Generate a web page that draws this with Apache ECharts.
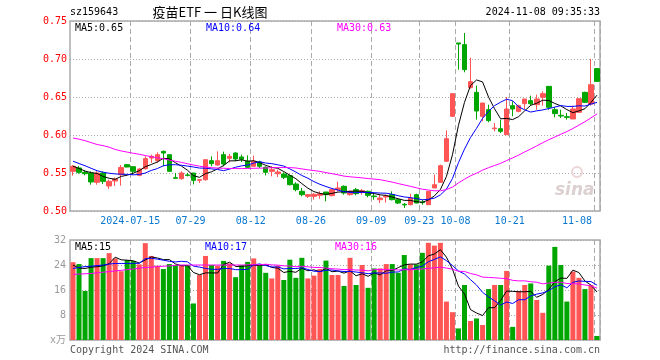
<!DOCTYPE html>
<html><head><meta charset="utf-8">
<script src="https://cdn.jsdelivr.net/npm/echarts@6/dist/echarts.min.js"></script>
<style>html,body{margin:0;padding:0;background:#fff}#c{width:660px;height:360px}</style>
</head><body><div id="c"></div>
<script>
const dates = ['2024-07-01','2024-07-02','2024-07-03','2024-07-04','2024-07-05','2024-07-08','2024-07-09','2024-07-10','2024-07-11','2024-07-12','2024-07-15','2024-07-16','2024-07-17','2024-07-18','2024-07-19','2024-07-22','2024-07-23','2024-07-24','2024-07-25','2024-07-26','2024-07-29','2024-07-30','2024-07-31','2024-08-01','2024-08-02','2024-08-05','2024-08-06','2024-08-07','2024-08-08','2024-08-09','2024-08-12','2024-08-13','2024-08-14','2024-08-15','2024-08-16','2024-08-19','2024-08-20','2024-08-21','2024-08-22','2024-08-23','2024-08-26','2024-08-27','2024-08-28','2024-08-29','2024-08-30','2024-09-02','2024-09-03','2024-09-04','2024-09-05','2024-09-06','2024-09-09','2024-09-10','2024-09-11','2024-09-12','2024-09-13','2024-09-18','2024-09-19','2024-09-20','2024-09-23','2024-09-24','2024-09-25','2024-09-26','2024-09-27','2024-09-30','2024-10-08','2024-10-09','2024-10-10','2024-10-11','2024-10-14','2024-10-15','2024-10-16','2024-10-17','2024-10-18','2024-10-21','2024-10-22','2024-10-23','2024-10-24','2024-10-25','2024-10-28','2024-10-29','2024-10-30','2024-10-31','2024-11-01','2024-11-04','2024-11-05','2024-11-06','2024-11-07','2024-11-08'];
const tickDates = ['2024-07-15','2024-07-29','2024-08-12','2024-08-26','2024-09-09','2024-09-23','2024-10-08','2024-10-21','2024-11-08'];

const opens = [0.5522,0.5566,0.5509,0.5500,0.5377,0.5500,0.5329,0.5395,0.5478,0.5610,0.5583,0.5469,0.5557,0.5697,0.5662,0.5785,0.5741,0.5438,0.5425,0.5475,0.5500,0.5403,0.5412,0.5662,0.5605,0.5741,0.5693,0.5763,0.5711,0.5654,0.5588,0.5645,0.5575,0.5522,0.5491,0.5487,0.5465,0.5355,0.5259,0.5193,0.5193,0.5206,0.5250,0.5202,0.5281,0.5325,0.5215,0.5281,0.5246,0.5259,0.5197,0.5149,0.5184,0.5215,0.5149,0.5088,0.5083,0.5215,0.5118,0.5083,0.5303,0.5377,0.5654,0.6246,0.7211,0.7189,0.6623,0.6561,0.6246,0.6333,0.6083,0.6083,0.6004,0.6386,0.6311,0.6412,0.6452,0.6399,0.6496,0.6640,0.6333,0.6259,0.6241,0.6211,0.6298,0.6561,0.6408,0.6873];
const closes = [0.5588,0.5509,0.5491,0.5382,0.5500,0.5390,0.5390,0.5421,0.5574,0.5579,0.5522,0.5553,0.5689,0.5719,0.5741,0.5763,0.5522,0.5430,0.5500,0.5468,0.5403,0.5412,0.5675,0.5623,0.5662,0.5618,0.5719,0.5684,0.5680,0.5575,0.5654,0.5588,0.5509,0.5544,0.5513,0.5443,0.5346,0.5281,0.5215,0.5215,0.5219,0.5228,0.5215,0.5281,0.5303,0.5237,0.5259,0.5228,0.5268,0.5206,0.5189,0.5171,0.5197,0.5149,0.5105,0.5079,0.5171,0.5105,0.5110,0.5259,0.5346,0.5596,0.5952,0.6544,0.7197,0.6860,0.6702,0.6316,0.6421,0.6189,0.6092,0.6048,0.6342,0.6342,0.6386,0.6474,0.6412,0.6474,0.6544,0.6364,0.6281,0.6250,0.6232,0.6342,0.6478,0.6430,0.6662,0.6706];
const lows = [0.5465,0.5490,0.5470,0.5346,0.5346,0.5355,0.5290,0.5330,0.5333,0.5575,0.5478,0.5456,0.5544,0.5632,0.5632,0.5588,0.5520,0.5425,0.5412,0.5456,0.5350,0.5368,0.5399,0.5588,0.5596,0.5588,0.5640,0.5654,0.5645,0.5566,0.5588,0.5566,0.5469,0.5456,0.5447,0.5421,0.5337,0.5259,0.5193,0.5171,0.5149,0.5162,0.5127,0.5193,0.5259,0.5215,0.5202,0.5206,0.5215,0.5180,0.5149,0.5105,0.5110,0.5140,0.5092,0.5040,0.5075,0.5101,0.5083,0.5079,0.5303,0.5368,0.5645,0.6237,0.6860,0.6825,0.6610,0.6202,0.6180,0.6167,0.6048,0.6026,0.6004,0.6246,0.6298,0.6342,0.6386,0.6333,0.6386,0.6333,0.6232,0.6224,0.6202,0.6211,0.6290,0.6421,0.6386,0.6700];
const highs = [0.5605,0.5590,0.5535,0.5522,0.5522,0.5522,0.5412,0.5439,0.5605,0.5615,0.5590,0.5566,0.5719,0.5741,0.5772,0.5794,0.5745,0.5500,0.5522,0.5500,0.5500,0.5420,0.5675,0.5719,0.5785,0.5781,0.5750,0.5772,0.5741,0.5732,0.5728,0.5662,0.5588,0.5588,0.5544,0.5509,0.5478,0.5377,0.5303,0.5224,0.5237,0.5259,0.5250,0.5290,0.5386,0.5337,0.5268,0.5303,0.5290,0.5268,0.5228,0.5215,0.5215,0.5259,0.5158,0.5105,0.5228,0.5228,0.5149,0.5259,0.5478,0.5610,0.6061,0.6544,0.7211,0.7342,0.7018,0.6649,0.6421,0.6399,0.6158,0.6202,0.6500,0.6443,0.6399,0.6474,0.6518,0.6531,0.6575,0.6640,0.6368,0.6333,0.6290,0.6386,0.6478,0.6570,0.7000,0.6882];

const ma5 = [0.5590,0.5560,0.5525,0.5505,0.5494,0.5454,0.5431,0.5417,0.5455,0.5471,0.5497,0.5530,0.5583,0.5612,0.5645,0.5693,0.5687,0.5635,0.5591,0.5537,0.5465,0.5443,0.5492,0.5516,0.5555,0.5598,0.5659,0.5661,0.5673,0.5655,0.5662,0.5636,0.5601,0.5574,0.5562,0.5519,0.5471,0.5425,0.5360,0.5300,0.5255,0.5232,0.5218,0.5232,0.5249,0.5253,0.5259,0.5262,0.5259,0.5240,0.5230,0.5212,0.5206,0.5182,0.5162,0.5140,0.5140,0.5122,0.5114,0.5145,0.5198,0.5283,0.5453,0.5739,0.6127,0.6430,0.6651,0.6724,0.6699,0.6498,0.6344,0.6213,0.6218,0.6203,0.6242,0.6318,0.6391,0.6418,0.6458,0.6454,0.6415,0.6383,0.6334,0.6294,0.6317,0.6346,0.6429,0.6524];
const ma10 = [0.5655,0.5625,0.5595,0.5562,0.5530,0.5510,0.5497,0.5488,0.5484,0.5482,0.5476,0.5480,0.5500,0.5534,0.5558,0.5595,0.5608,0.5609,0.5602,0.5591,0.5579,0.5565,0.5563,0.5554,0.5546,0.5531,0.5551,0.5576,0.5594,0.5605,0.5630,0.5648,0.5631,0.5623,0.5608,0.5591,0.5554,0.5513,0.5467,0.5431,0.5387,0.5351,0.5322,0.5296,0.5275,0.5254,0.5245,0.5240,0.5245,0.5244,0.5241,0.5236,0.5234,0.5221,0.5201,0.5185,0.5176,0.5164,0.5148,0.5154,0.5169,0.5212,0.5287,0.5427,0.5636,0.5814,0.5967,0.6088,0.6219,0.6312,0.6387,0.6432,0.6471,0.6451,0.6370,0.6331,0.6302,0.6318,0.6330,0.6348,0.6367,0.6387,0.6376,0.6376,0.6385,0.6381,0.6406,0.6429];
const ma30 = [0.5960,0.5945,0.5925,0.5900,0.5875,0.5860,0.5840,0.5810,0.5790,0.5775,0.5760,0.5746,0.5730,0.5715,0.5700,0.5688,0.5670,0.5655,0.5640,0.5622,0.5605,0.5590,0.5578,0.5570,0.5565,0.5562,0.5560,0.5558,0.5558,0.5559,0.5562,0.5564,0.5565,0.5570,0.5571,0.5572,0.5571,0.5566,0.5554,0.5542,0.5532,0.5521,0.5505,0.5491,0.5476,0.5459,0.5450,0.5443,0.5436,0.5427,0.5420,0.5412,0.5396,0.5380,0.5361,0.5343,0.5325,0.5306,0.5287,0.5276,0.5266,0.5266,0.5281,0.5314,0.5370,0.5418,0.5463,0.5497,0.5538,0.5570,0.5599,0.5627,0.5664,0.5699,0.5736,0.5777,0.5815,0.5857,0.5899,0.5938,0.5974,0.6010,0.6045,0.6085,0.6130,0.6175,0.6225,0.6278];

const volumes = [24.9,24.3,15.7,26.2,26.2,26.2,27.8,26.1,22.0,25.6,25.3,24.2,31.0,26.9,23.8,22.7,24.3,24.0,24.0,24.0,11.7,20.8,26.9,24.0,23.8,25.3,24.5,20.1,24.0,25.0,26.1,23.8,21.5,19.7,23.8,19.2,25.7,19.9,26.3,19.7,20.6,22.7,25.4,20.8,20.8,17.3,26.3,17.6,24.0,16.7,22.9,22.9,24.3,24.3,21.5,27.2,24.2,24.2,27.9,31.1,30.2,31.1,12.3,8.9,3.7,17.6,6.1,6.9,4.8,16.3,17.6,17.6,22.1,4.2,15.7,17.6,18.1,12.8,8.7,23.8,29.8,24.0,12.3,21.9,19.9,16.3,17.6,1.3];
const vma5 = [24.0,23.0,22.9,23.3,23.46,23.72,24.42,26.5,25.66,25.54,25.36,24.64,25.62,26.6,26.24,25.72,25.74,24.34,23.76,23.8,21.6,20.9,21.48,21.48,21.44,24.16,24.9,23.54,23.54,23.78,23.94,23.8,24.08,23.22,22.98,21.6,21.98,21.66,22.98,22.16,22.44,21.84,22.94,21.84,22.06,21.4,22.12,20.56,21.2,20.38,21.5,20.82,22.16,22.22,23.18,24.04,24.3,24.28,25.0,26.92,27.52,28.9,26.52,22.72,17.24,14.72,9.72,8.64,7.82,10.34,10.34,12.64,15.68,15.56,15.44,15.44,15.54,13.68,14.58,16.2,18.64,19.82,19.72,22.36,21.58,18.88,17.58,15.38];
const vma10 = [22.9,23.2,23.5,23.6,23.8,24.0,24.3,24.5,24.5,24.5,24.54,24.53,26.06,26.13,25.89,25.54,25.19,24.98,25.18,25.02,23.66,23.32,22.91,22.62,22.62,22.88,22.9,22.51,22.51,22.61,24.05,24.35,23.81,23.38,23.38,22.77,22.89,22.87,23.1,22.57,22.02,21.91,22.3,22.41,22.11,21.92,21.98,21.75,21.52,21.22,21.45,21.47,21.36,21.71,21.78,22.77,22.56,23.22,23.61,25.05,25.78,26.6,25.4,23.86,22.08,21.12,19.31,17.58,15.27,13.79,12.53,11.18,12.16,11.69,12.89,12.89,14.09,14.68,15.07,15.82,17.04,17.68,16.7,18.47,18.89,18.76,18.7,17.55];
const vma30 = [21.0,21.1,21.2,21.3,21.5,21.7,21.9,22.1,22.3,22.5,22.7,23.0,23.2,23.3,23.5,23.6,23.7,23.9,24.0,24.0,24.0,24.0,24.0,24.0,24.0,24.0,24.0,24.0,24.0,24.04,24.08,24.07,24.26,24.04,23.96,23.73,23.66,23.45,23.6,23.4,23.24,23.19,23.01,22.8,22.7,22.52,22.59,22.38,22.38,22.13,22.51,22.58,22.49,22.5,22.42,22.49,22.48,22.61,22.74,22.95,23.08,23.33,23.02,22.66,21.99,21.94,21.28,20.85,20.13,20.02,19.92,19.75,19.64,19.09,18.92,18.93,18.65,18.49,17.98,18.22,18.45,18.49,18.09,18.0,17.95,17.59,17.37,16.6];

const UP = '#ff5555', DOWN = '#00a600', GRIDC = '#aaaaaa';
const MONO = '"DejaVu Sans Mono", monospace';

const kData = dates.map((d, i) => [opens[i], closes[i], lows[i], highs[i]]);
const volData = volumes.map((v, i) => ({value: v, itemStyle: {color: closes[i] >= opens[i] ? UP : DOWN}}));
const isTick = (idx, val) => tickDates.indexOf(val) >= 0;

const chart = echarts.init(document.getElementById('c'), null, {renderer: 'canvas'});
function txt(x, y, text, fill, align, font) {
  return {type: 'text', x: x, y: y, silent: true, z: 100,
    style: {text: text, fill: fill, align: align || 'left', verticalAlign: 'middle', font: font || ('10px ' + MONO)}};
}
chart.setOption({
  animation: false,
  backgroundColor: '#fff',
  grid: [
    {left: 70, top: 21, width: 530, height: 190, show: true, borderColor: GRIDC, borderWidth: 1.5, backgroundColor: 'transparent'},
    {left: 70, top: 240, width: 530, height: 100, show: true, borderColor: GRIDC, borderWidth: 1.5, backgroundColor: 'transparent'}
  ],
  xAxis: [
    {type: 'category', gridIndex: 0, data: dates, boundaryGap: true,
     axisLine: {show: false}, axisTick: {show: true, inside: true, length: 3, interval: isTick, lineStyle: {color: GRIDC}},
     splitLine: {show: true, interval: isTick, lineStyle: {color: GRIDC, type: [5, 3], width: 1}},
     axisLabel: {show: true, interval: isTick, margin: 5,
       formatter: (v) => v === '2024-07-15' ? '{a|' + v + '}' : (v === '2024-11-08' ? '{r|' + v.slice(5) + '}' : '{a|' + v.slice(5) + '}'),
       rich: {a: {fontFamily: MONO, fontSize: 10, color: '#0a78d0', padding: [0, 6, 0, 0]},
              r: {fontFamily: MONO, fontSize: 10, color: '#0a78d0', padding: [0, 40, 0, 0]}}}},
    {type: 'category', gridIndex: 1, data: dates, boundaryGap: true,
     axisLine: {show: false}, axisTick: {show: false}, axisLabel: {show: false},
     splitLine: {show: true, interval: isTick, lineStyle: {color: GRIDC, type: [5, 3], width: 1}}}
  ],
  yAxis: [
    {type: 'value', gridIndex: 0, min: 0.5, max: 0.75, interval: 0.05, scale: true,
     axisLine: {show: false}, axisTick: {show: false},
     axisLabel: {color: '#ff0000', fontFamily: MONO, fontSize: 10, margin: 3, formatter: (v) => v.toFixed(2)},
     splitLine: {show: true, lineStyle: {color: GRIDC, type: [1, 2], width: 1}}},
    {type: 'value', gridIndex: 1, min: 0, max: 32, interval: 8,
     axisLine: {show: false}, axisTick: {show: false},
     axisLabel: {color: '#999999', fontFamily: MONO + ', "Noto Sans CJK SC"', fontSize: 10, margin: 4, formatter: (v) => v === 0 ? 'x万' : String(v)},
     splitLine: {show: true, lineStyle: {color: GRIDC, type: [1, 2], width: 1}}}
  ],
  series: [
    {type: 'candlestick', xAxisIndex: 0, yAxisIndex: 0, data: kData, barWidth: 5,
     itemStyle: {color: UP, color0: DOWN, borderColor: UP, borderColor0: DOWN, borderWidth: 1}},
    {type: 'line', xAxisIndex: 0, yAxisIndex: 0, data: ma5, symbol: 'none', lineStyle: {color: '#000000', width: 1}, z: 5},
    {type: 'line', xAxisIndex: 0, yAxisIndex: 0, data: ma10, symbol: 'none', lineStyle: {color: '#0000ff', width: 1}, z: 5},
    {type: 'line', xAxisIndex: 0, yAxisIndex: 0, data: ma30, symbol: 'none', lineStyle: {color: '#ff00ff', width: 1}, z: 5},
    {type: 'bar', xAxisIndex: 1, yAxisIndex: 1, data: volData, barWidth: 5},
    {type: 'line', xAxisIndex: 1, yAxisIndex: 1, data: vma5, symbol: 'none', lineStyle: {color: '#000000', width: 1}, z: 5},
    {type: 'line', xAxisIndex: 1, yAxisIndex: 1, data: vma10, symbol: 'none', lineStyle: {color: '#0000ff', width: 1}, z: 5},
    {type: 'line', xAxisIndex: 1, yAxisIndex: 1, data: vma30, symbol: 'none', lineStyle: {color: '#ff00ff', width: 1}, z: 5}
  ],
  graphic: [
    txt(70, 12, 'sz159643', '#000'),
    txt(210, 12, '疫苗ETF 一 日K线图', '#000', 'center', '13px "Noto Sans CJK SC"'),
    txt(600, 12, '2024-11-08 09:35:33', '#000', 'right'),
    txt(75, 28, 'MA5:0.65', '#000'),
    txt(206, 28, 'MA10:0.64', '#0000ff'),
    txt(337, 28, 'MA30:0.63', '#ff00ff'),
    txt(75, 247, 'MA5:15', '#000'),
    txt(205, 247, 'MA10:17', '#0000ff'),
    txt(335, 247, 'MA30:16', '#ff00ff'),
    txt(70, 350, 'Copyright 2024 SINA.COM', '#555'),
    txt(600, 350, 'http://finance.sina.com.cn', '#555', 'right'),
    {type: 'circle', silent: true, z: 1, shape: {cx: 577, cy: 172, r: 5}, style: {fill: 'none', stroke: '#ecd6d6', lineWidth: 2}},
    txt(555, 191, 'sina', '#dcd0d0', 'left', 'italic bold 17px "DejaVu Sans"')
  ]
});
</script>
</body></html>
